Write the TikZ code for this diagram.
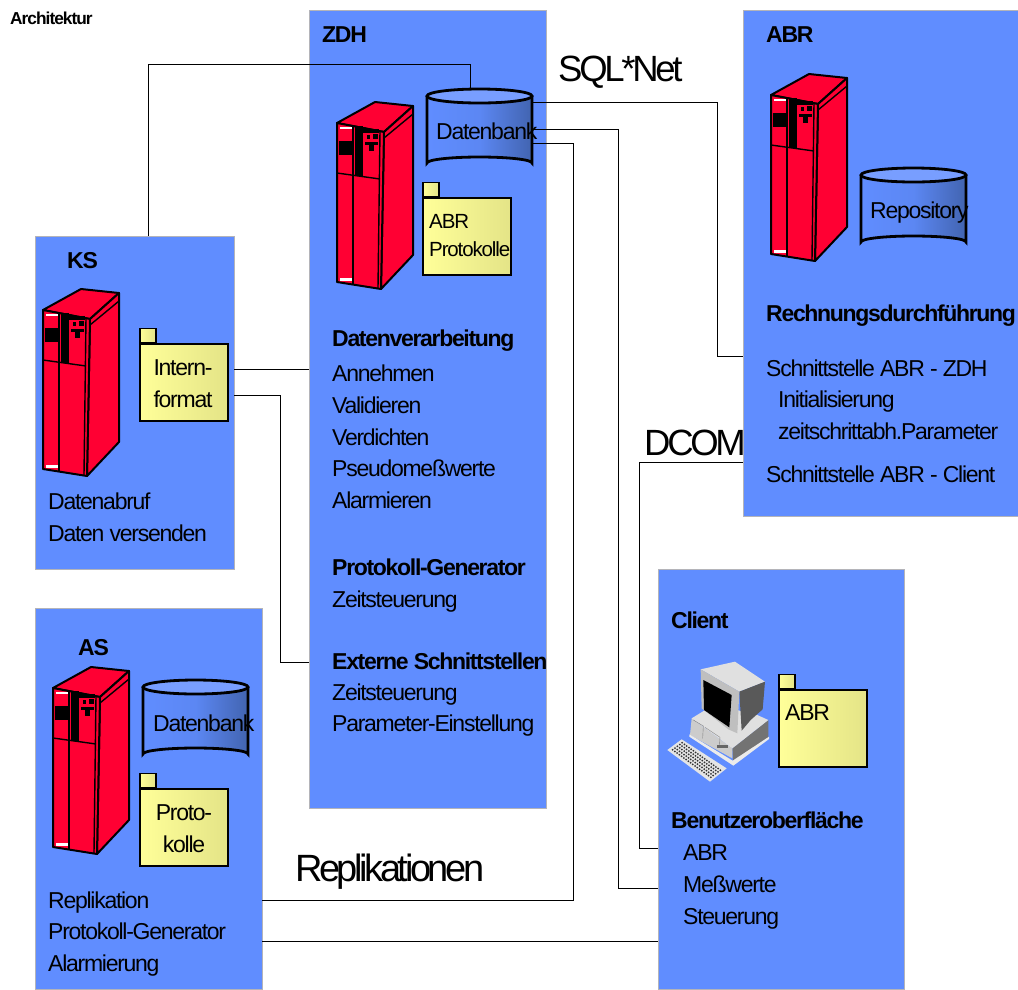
\documentclass[tikz,border=0pt]{standalone}
\usepackage{fontspec}
\setmainfont[LetterSpace=-5.5,BoldFeatures={LetterSpace=-5.7}]{Liberation Sans}
\newfontfamily\protofont[LetterSpace=-9]{Liberation Sans}
\usepackage{xcolor}
\usetikzlibrary{calc,positioning}
\definecolor{panelblue}{RGB}{96,141,255}
\definecolor{panelline}{RGB}{180,180,185}
\definecolor{serverred}{RGB}{255,0,51}
\definecolor{folderlight}{RGB}{255,255,153}
\definecolor{folderdark}{RGB}{228,228,135}
\definecolor{candark}{RGB}{66,100,176}

\begin{document}
\begin{tikzpicture}[
        x=1pt,
        y=-1pt,
        panel/.style={
            draw=panelline,
            fill=panelblue,
            anchor=north west,
            inner sep=0pt
        },
        folder/.style={
            draw,
            line width=1.5pt,
            left color=folderlight,
            right color=folderdark,
            anchor=north west,
            minimum width=88pt,
            minimum height=77pt,
            inner sep=0pt
        },
        tab/.style={
            draw,
            line width=1.5pt,
            left color=folderlight,
            right color=folderdark,
            anchor=south west,
            minimum width=16pt,
            minimum height=14pt,
            inner sep=0pt
        },
        body/.style={
            anchor=west,
            align=left,
            inner sep=0pt,
            font=\fontsize{23}{31.7}\selectfont
        },
        head/.style={
            body,
            font=\fontsize{23}{31.7}\selectfont\bfseries
        },
        foldertext/.style={
            anchor=west,
            align=left,
            inner sep=0pt,
            font=\fontsize{20.5}{28}\selectfont
        },
        protocol/.style={
            anchor=west,
            inner sep=0pt,
            font=\fontsize{38}{40}\protofont
        },
        link/.style={
            line width=1pt,
            line join=miter
        },
        server/.pic={
            \draw[line width=2pt,fill=serverred,line join=round]
                (0,0) -- (38,-21) -- (76,-17) -- (47,9) -- cycle;
            \draw[line width=2pt,fill=serverred,line join=round]
                (47,9) -- (76,-17) -- (76,132) -- (44,166) -- cycle;
            \draw[line width=2pt,fill=serverred,line join=round]
                (0,0) -- (47,9) -- (44,166) -- (0,159) -- cycle;
            \draw[line width=1.4pt] (47,15) -- (76,-9);
            \draw[line width=1.4pt] (43,8) -- (41,165);
            \draw[line width=2.4pt] (16,3) -- (16,161);
            \draw[line width=1.4pt] (0,50) -- (43,56);
            \fill (2,18) rectangle (15,32);
            \fill (18,3) rectangle (26,53);
            \fill (26,6) rectangle (42,10);
            \fill (30,12) rectangle (33,16);
            \fill (36,11) rectangle (41,16);
            \fill (28,19) rectangle (41,22);
            \fill (32,22) rectangle (37,28);
            \fill[white] (3,4) rectangle (15,6);
            \fill[white] (3,155) rectangle (15,158);
        },
        dbcan/.pic={
            \shade[left color=panelblue,right color=candark,middle color=panelblue!85!candark]
                (0,7) -- (0,74) arc[start angle=180,end angle=360,x radius=52.5,y radius=6]
                -- (105,7) arc[start angle=0,end angle=180,x radius=52.5,y radius=7];
            \draw[line width=2.8pt,fill=panelblue!85!white]
                (52.5,7) ellipse[x radius=52.5,y radius=7];
            \draw[line width=2.8pt]
                (0,7) -- (0,74) arc[start angle=180,end angle=360,x radius=52.5,y radius=6]
                -- (105,7);
        }
    ]
        \useasboundingbox (0,0) rectangle (1018,989);

        % Verbindungen liegen unter den Flaechen
        \node[panel,minimum width=237pt,minimum height=798pt] (zdh)    at (309,10)  {};
        \node[panel,minimum width=275pt,minimum height=506pt] (abr)    at (743,10)  {};
        \node[panel,minimum width=199pt,minimum height=333pt] (ks)     at (35,236)  {};
        \node[panel,minimum width=227pt,minimum height=381pt] (as)     at (35,608)  {};
        \node[panel,minimum width=246pt,minimum height=420pt] (client) at (658,569) {};

        \node[anchor=west,inner sep=0pt,font=\fontsize{17.3}{19}\selectfont\bfseries] (titel) at (10,18) {Architektur};

        % Rechner
        \pic at (337,123) {server};
        \pic at (43,310)  {server};
        \pic at (53,688)  {server};
        \pic at (771,95)  {server};

        % Datenbanken
        \pic at (427,89)  {dbcan};
        \pic at (143,680) {dbcan};
        \pic at (861,168) {dbcan};

        \node[body] (zdhdb)  at (436,131) {Datenbank};
        \node[body] (asdb)   at (153,723) {Datenbank};
        \node[body] (abrdb)  at (870,213) {Repository};

        % Ablagen
        \node[folder] (zdhfolder) at (422,197) {};
        \node[tab] at (zdhfolder.north west) {};
        \node[foldertext] (zdhfoldertext) at (429,236) {ABR\\Protokolle};

        \node[folder] (ksfolder) at (139,343) {};
        \node[tab] at (ksfolder.north west) {};
        \node[body,align=center,anchor=center] (ksfoldertext) at (183,384) {Intern-\\format};

        \node[folder] (asfolder) at (139,788) {};
        \node[tab] at (asfolder.north west) {};
        \node[body,align=center,anchor=center] (asfoldertext) at (184,829) {Proto-\\kolle};

        \node[folder] (clientfolder) at (778,689) {};
        \node[tab] at (clientfolder.north west) {};
        \node[body] (clientfoldertext) at (785,713) {ABR};

        % Arbeitsplatz
        \begin{scope}[shift={(660,640)},scale=1/3]
            \fill[black!55] (217,325) -- (325,240) -- (325,295) -- (220,375) -- cycle;
            \fill[black!20] (95,235) -- (217,325) -- (217,355) -- (90,285) -- cycle;
            \fill[black!12] (95,235) -- (160,195) -- (285,222) -- (325,240) -- (217,325) -- cycle;
            \fill[black!8] (88,283) -- (218,362) -- (327,290) -- (327,297) -- (220,377) -- (88,290) -- cycle;
            \draw[black!50] (100,240) -- (130,258) -- (128,295);
            \draw[black!50] (135,262) -- (180,292) -- (178,322);
            \fill[black!60] (170,315) rectangle (205,325);
            \fill[black!12] (122,88) -- (225,65) -- (315,125) -- (238,155) -- cycle;
            \fill[black!65] (238,155) -- (315,125) -- (308,208) -- (272,240) -- (245,272) -- cycle;
            \fill[black!25] (122,88) -- (238,155) -- (232,280) -- (205,268) -- (125,205) -- cycle;
            \fill (130,120) -- (215,165) -- (208,262) -- (132,210) -- cycle;
            \fill[black!10] (22,330) -- (65,298) -- (200,385) -- (150,425) -- cycle;
            \foreach \i in {1,...,18} {
                \foreach \j in {1,...,5} {
                    \fill[black!80] ($(24,330)+{\i/19}*(128,92)+{\j/6}*(43,-32)$) circle[radius=3];
                }
            }
        \end{scope}

        % Beschriftung ZDH
        \node[head] (zdhname)  at (322,35)  {ZDH};
        \node[head] (zdhhead)  at (332,341) {Datenverarbeitung};
        \node[body] (zdhlist)  at (332,437) {Annehmen\\Validieren\\Verdichten\\Pseudomeßwerte\\Alarmieren};
        \node[head] (protohead) at (332,567) {Protokoll-Generator};
        \node[body] (prototime) at (332,602) {Zeitsteuerung};
        \node[head] (exthead)  at (332,661) {Externe Schnittstellen};
        \node[body] (extlist)  at (332,710) {Zeitsteuerung\\Parameter-Einstellung};

        % Beschriftung ABR
        \node[head] (abrname)  at (766,35)  {ABR};
        \node[head] (abrhead)  at (766,316) {Rechnungsdurchführung};
        \node[body] (abrzdh)   at (766,368) {Schnittstelle ABR - ZDH};
        \node[body] (abrinit)  at (778,415) {Initialisierung\\zeitschrittabh.Parameter};
        \node[body] (abrcli)   at (766,474) {Schnittstelle ABR - Client};

        % Beschriftung KS
        \node[head] (ksname)   at (67,261)  {KS};
        \node[body] (kslist)   at (48,517)  {Datenabruf\\Daten versenden};

        % Beschriftung AS
        \node[head] (asname)   at (78,648)  {AS};
        \node[body] (aslist)   at (48,934)  {Replikation\\Protokoll-Generator\\Alarmierung};

        % Beschriftung Client
        \node[head] (clientname) at (671,620) {Client};
        \node[head] (clienthead) at (671,820) {Benutzeroberfläche};
        \node[body] (clientlist) at (683,887) {ABR\\Meßwerte\\Steuerung};

        % Protokolle
        \node[protocol,font=\fontsize{36.5}{40}\protofont] (sqlnet)  at (558,72)  {SQL*Net};
        \node[protocol,font=\fontsize{36.5}{40}\protofont] (dcom)    at (644,443) {DCOM};
        \node[protocol] (repl)    at (295,872) {Replikationen};

        % Anschlusspunkte
        \coordinate (ksup)      at (148,236);
        \coordinate (dbtop)     at (470,90);
        \coordinate (dbport-a)  at (532,102);
        \coordinate (dbport-b)  at (532,129);
        \coordinate (dbport-c)  at (532,143);
        \coordinate (abrport-a) at (abr.west |- 0,356);
        \coordinate (abrport-b) at (abr.west |- 0,462);
        \coordinate (cliport-a) at (client.west |- 0,848);
        \coordinate (cliport-b) at (client.west |- 0,888);
        \coordinate (cliport-c) at (client.west |- 0,941);
        \coordinate (asport-a)  at (as.east |- 0,900);
        \coordinate (asport-b)  at (as.east |- 0,941);
        \coordinate (ksport-a)  at (ks.east |- 0,369);
        \coordinate (ksport-b)  at (ks.east |- 0,395);
        \coordinate (zdhport-a) at (zdh.west |- 0,369);
        \coordinate (zdhport-b) at (zdh.west |- 0,662);

        % Leitungen
        \draw[link] (ksup) -- ++(0,-172) -| (dbtop);
        \draw[link] (ksport-a) -- (zdhport-a);
        \draw[link] (ksport-b) -- ++(46.5,0) |- (zdhport-b);
        \draw[link] (dbport-a) -- ++(185,0) |- (abrport-a);
        \draw[link] (dbport-b) -- ++(86,0) |- (cliport-b);
        \draw[link] (dbport-c) -- ++(41,0) |- (asport-a);
        \draw[link] (abrport-b) -- ++(-103.5,0) |- (cliport-a);
        \draw[link] (asport-b) -- (cliport-c);

\end{tikzpicture}
\end{document}
